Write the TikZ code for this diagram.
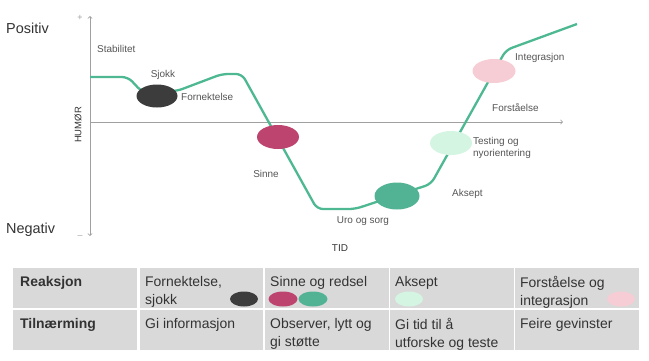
\documentclass[tikz,border=0pt]{standalone}
\usepackage{fontspec}
\setmainfont{Liberation Sans}
\usetikzlibrary{shapes.geometric}
\definecolor{curvegreen}{HTML}{4DB891}
\definecolor{shockgray}{HTML}{3C3C3C}
\definecolor{angerred}{HTML}{BE4470}
\definecolor{acceptgreen}{HTML}{52B294}
\definecolor{testgreen}{HTML}{D4F5E2}
\definecolor{integpink}{HTML}{F6CDD4}
\definecolor{axisgray}{HTML}{A0A0A0}
\definecolor{labelgray}{HTML}{555555}
\definecolor{darktext}{HTML}{333333}
\definecolor{cellgray}{HTML}{D9D9D9}

\begin{document}
\begin{tikzpicture}[x=1bp,y=-1bp,
    phasetext/.style={font=\fontsize{10}{12.5}\selectfont, text=labelgray, inner sep=0pt},
    stage/.style={ellipse, inner sep=0pt, minimum width=42bp, minimum height=24bp},
    tabdot/.style={ellipse, inner sep=0pt, minimum width=28bp, minimum height=15bp},
    celltext/.style={font=\fontsize{14}{18}\selectfont, text=darktext, anchor=north west, align=left, inner sep=0pt}]
            \useasboundingbox (0,0) rectangle (649,360);

            % Axes
            \coordinate (ytop) at (90,16);
            \coordinate (ybot) at (90,236);
            \coordinate (origin) at (90,122);
            \coordinate (xend) at (563,122);
            \draw[axisgray,line width=0.8bp,<->] (ybot) -- (ytop);
            \draw[axisgray,line width=0.8bp,->] (origin) -- (xend);

            \node[font=\fontsize{14.5}{17}\selectfont, text=darktext, anchor=west, inner sep=0pt] (positiv) at (6,28) {Positiv};
            \node[font=\fontsize{14.5}{17}\selectfont, text=darktext, anchor=west, inner sep=0pt] (negativ) at (6,230) {Negativ};
            \node[font=\fontsize{9}{11}\selectfont, text=axisgray, inner sep=0pt] (plus) at (80,18) {+};
            \node[font=\fontsize{9}{11}\selectfont, text=axisgray, inner sep=0pt] (minus) at (80,237) {--};
            \node[font=\fontsize{9.5}{11}\selectfont, text=darktext, rotate=90, inner sep=0pt] (humor) at (78,125) {HUMØR};
            \node[font=\fontsize{10}{12}\selectfont, text=darktext, inner sep=0pt] (tid) at (340,248) {TID};

            % Curve
            \draw[curvegreen,line width=2.3bp,rounded corners=6bp] (90,77) -- (128,77) -- (142,92) -- (177,91)
                -- (222,74) -- (242,74) -- (317,209) -- (355,209) -- (431,184) -- (506,50) -- (577,24);

            % Phases
            \node[stage, fill=shockgray, minimum width=41bp, minimum height=23bp] (sjokk) at (157,96) {};
            \node[stage, fill=angerred] (sinne) at (278,137) {};
            \node[stage, fill=acceptgreen, minimum width=45bp, minimum height=27bp] (aksept) at (397,196) {};
            \node[stage, fill=testgreen] (testing) at (451,143) {};
            \node[stage, fill=integpink, minimum width=43bp] (integrasjon) at (494,71) {};

            \node[phasetext, anchor=west] (stabilitetlbl) at (97,49) {Stabilitet};
            \node[phasetext] (sjokklbl) at (163,75) {Sjokk};
            \node[phasetext, anchor=west] (fornektelselbl) at (181,97) {Fornektelse};
            \node[phasetext] (sinnelbl) at (266,174) {Sinne};
            \node[phasetext] (urolbl) at (363,221) {Uro og sorg};
            \node[phasetext, anchor=west] (akseptlbl) at (452,194) {Aksept};
            \node[phasetext, anchor=west, align=left] (testinglbl) at (473,148) {Testing og\\nyorientering};
            \node[phasetext, anchor=west] (forstaelselbl) at (492,108) {Forståelse};
            \node[phasetext, anchor=west] (integrasjonlbl) at (515,58) {Integrasjon};

            % Table
            \foreach \cx in {13,139.5,265,390,515} {
                \fill[cellgray] (\cx,268) rectangle +(123.5,40);
                \fill[cellgray] (\cx,310) rectangle +(123.5,40);
            }
            \node[celltext] (reaksjon) at (20,276) {\textbf{Reaksjon}};
            \node[celltext] (r1) at (145,276) {Fornektelse,\\sjokk};
            \node[celltext] (r2) at (270,276) {Sinne og redsel};
            \node[celltext] (r3) at (395,276) {Aksept};
            \node[celltext] (r4) at (520,276) {Forståelse og\\integrasjon};
            \node[celltext] (tilnaerming) at (20,318) {\textbf{Tilnærming}};
            \node[celltext] (t1) at (145,318) {Gi informasjon};
            \node[celltext] (t2) at (270,318) {Observer, lytt og\\gi støtte};
            \node[celltext] (t3) at (395,318) {Gi tid til å\\utforske og teste};
            \node[celltext] (t4) at (520,318) {Feire gevinster};

            \node[tabdot, fill=shockgray] (d1) at (244,299) {};
            \node[tabdot, fill=angerred, minimum width=29bp] (d2) at (283,299) {};
            \node[tabdot, fill=acceptgreen, minimum width=29bp] (d3) at (313,299) {};
            \node[tabdot, fill=testgreen] (d4) at (409,299) {};
            \node[tabdot, fill=integpink] (d5) at (621,299) {};
        \end{tikzpicture}
\end{document}
